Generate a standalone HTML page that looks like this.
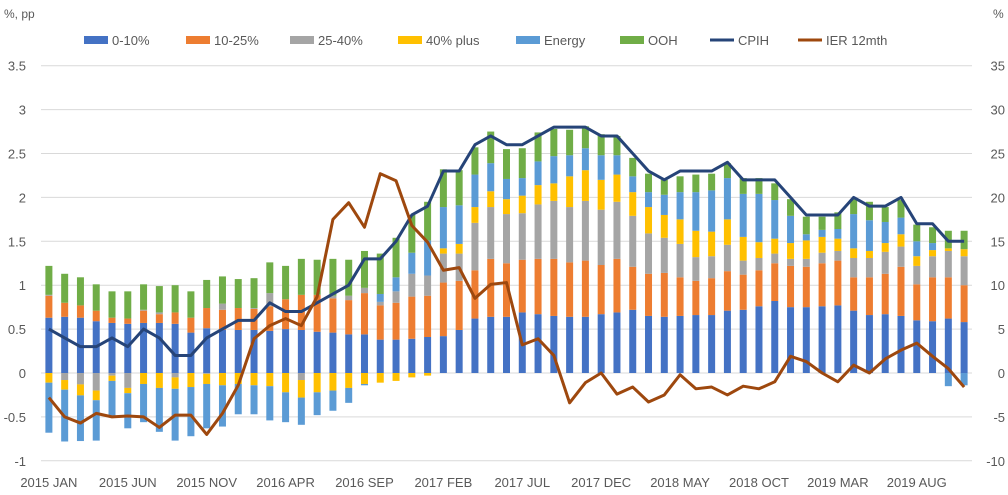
<!DOCTYPE html>
<html><head><meta charset="utf-8"><style>
body{margin:0;background:#fff;}
svg{display:block;font-family:"Liberation Sans",sans-serif;}
</style></head><body>
<svg id="chart" width="1008" height="495" viewBox="0 0 1008 495" xmlns="http://www.w3.org/2000/svg"></svg>
<script>
const months = ["2015 JAN","","","","","2015 JUN","","","","","2015 NOV","","","","","2016 APR","","","","","2016 SEP","","","","","2017 FEB","","","","","2017 JUL","","","","","2017 DEC","","","","","2018 MAY","","","","","2018 OCT","","","","","2019 MAR","","","","","2019 AUG","","",""];
const seriesNames = ["0-10%","10-25%","25-40%","40% plus","Energy","OOH"];
const s0to10 = [0.63,0.64,0.63,0.59,0.57,0.56,0.57,0.57,0.56,0.46,0.51,0.49,0.49,0.49,0.48,0.50,0.49,0.47,0.46,0.44,0.44,0.38,0.38,0.39,0.41,0.42,0.49,0.62,0.64,0.64,0.69,0.67,0.65,0.64,0.64,0.67,0.69,0.72,0.65,0.64,0.65,0.66,0.66,0.71,0.72,0.76,0.82,0.75,0.75,0.76,0.77,0.71,0.66,0.67,0.65,0.60,0.59,0.62,0.58];
const s10to25 = [0.25,0.16,0.14,0.12,0.06,0.06,0.14,0.10,0.13,0.17,0.23,0.23,0.25,0.24,0.28,0.34,0.40,0.42,0.39,0.39,0.47,0.39,0.42,0.48,0.47,0.61,0.56,0.55,0.66,0.61,0.60,0.63,0.65,0.62,0.64,0.56,0.61,0.49,0.48,0.50,0.44,0.39,0.42,0.45,0.40,0.41,0.43,0.47,0.46,0.49,0.51,0.38,0.43,0.46,0.56,0.41,0.50,0.47,0.42];
const s25to40 = [0.01,-0.08,-0.13,-0.2,-0.03,-0.17,0.01,0.02,-0.05,0,-0.01,0.07,0,0.01,0.15,0,-0.08,0,0.03,0.05,0.06,0.04,0.13,0.26,0.23,0.33,0.31,0.54,0.59,0.56,0.53,0.62,0.66,0.63,0.68,0.63,0.65,0.58,0.46,0.40,0.38,0.27,0.25,0.30,0.16,0.14,0.11,0.08,0.09,0.12,0.11,0.22,0.22,0.25,0.23,0.21,0.24,0.30,0.33];
const s40plus = [-0.11,-0.11,-0.125,-0.11,-0.06,-0.06,-0.125,-0.17,-0.13,-0.16,-0.115,-0.14,-0.125,-0.14,-0.15,-0.22,-0.20,-0.22,-0.20,-0.17,-0.125,-0.11,-0.09,-0.05,-0.03,0.06,0.11,0.18,0.18,0.17,0.20,0.22,0.20,0.35,0.35,0.34,0.31,0.27,0.30,0.26,0.28,0.30,0.28,0.29,0.27,0.18,0.17,0.18,0.21,0.18,0.14,0.11,0.08,0.10,0.14,0.11,0.07,0.03,0.08];
const sEnergy = [-0.57,-0.59,-0.52,-0.46,-0.41,-0.40,-0.435,-0.50,-0.59,-0.56,-0.505,-0.47,-0.345,-0.33,-0.39,-0.34,-0.31,-0.26,-0.23,-0.17,-0.015,0.09,0.16,0.24,0.40,0.47,0.44,0.37,0.32,0.23,0.20,0.27,0.31,0.24,0.25,0.28,0.22,0.18,0.17,0.23,0.31,0.44,0.47,0.47,0.49,0.55,0.44,0.31,0.07,0.08,0.11,0.39,0.35,0.24,0.19,0.17,0.08,-0.15,-0.14];
const sOOH = [0.33,0.33,0.32,0.30,0.30,0.31,0.29,0.30,0.31,0.30,0.32,0.31,0.33,0.34,0.35,0.38,0.41,0.40,0.42,0.41,0.42,0.46,0.45,0.43,0.44,0.43,0.40,0.31,0.36,0.34,0.34,0.33,0.31,0.29,0.25,0.24,0.22,0.21,0.21,0.17,0.18,0.20,0.19,0.17,0.18,0.18,0.19,0.19,0.20,0.15,0.19,0.17,0.21,0.17,0.20,0.19,0.18,0.20,0.21];
const cpih = [0.5,0.4,0.3,0.3,0.4,0.3,0.5,0.4,0.2,0.2,0.4,0.5,0.6,0.6,0.8,0.7,0.7,0.8,0.9,1.0,1.3,1.3,1.5,1.8,1.9,2.3,2.3,2.6,2.7,2.6,2.6,2.7,2.8,2.8,2.8,2.7,2.7,2.5,2.3,2.2,2.3,2.3,2.3,2.4,2.2,2.2,2.2,2.0,1.8,1.8,1.8,2.0,1.9,1.9,2.0,1.7,1.7,1.5,1.5];
const ier = [-2.8,-5.0,-5.7,-4.6,-5.0,-4.9,-5.0,-6.2,-4.8,-4.8,-7.0,-4.6,-1.4,3.9,5.4,6.2,5.4,8.7,17.5,19.4,16.6,22.7,21.9,16.8,14.9,11.7,12.0,8.5,10.1,10.3,3.2,3.9,2.0,-3.4,-1.1,0,-2.4,-1.6,-3.3,-2.5,-0.2,-1.8,-1.6,-2.5,-1.5,-1.8,-1.0,1.9,1.3,0,-1.0,0.9,0,1.6,2.6,3.4,1.9,0.5,-1.6];
const leftTicks = ["-1","-0.5","0","0.5","1","1.5","2","2.5","3","3.5"];
const rightTicks = ["-10","-5","0","5","10","15","20","25","30","35"];

const NS="http://www.w3.org/2000/svg";
const svg=document.getElementById('chart');
const colors=["#4472C4","#ED7D31","#A5A5A5","#FFC000","#5B9BD5","#70AD47"];
const L=41,R=972,Y0=373,PX=87.8;
const n=s0to10.length, step=(R-L)/n;
function x(i){return L+step*(i+0.5);}
function yL(v){return Y0-v*PX;}
function yR(v){return Y0-v/10*PX;}
function mk(t,a,txt){const e=document.createElementNS(NS,t);for(const k in a)e.setAttribute(k,a[k]);if(txt!==undefined)e.textContent=txt;svg.appendChild(e);return e;}

leftTicks.forEach((t,i)=>{const v=parseFloat(t);
 const g=mk('line',{x1:L,x2:R,y1:yL(v),y2:yL(v),stroke:'#d9d9d9','stroke-width':1});
 
 
 const tl=mk('text',{x:26,y:yL(v)+5,'text-anchor':'end','font-size':13,fill:'#595959'},t);
 
 
});
rightTicks.forEach((t,i)=>{const v=parseFloat(t);
 const tr=mk('text',{x:1005,y:yR(v)+5,'text-anchor':'end','font-size':13,fill:'#595959'},t);
 
 
});
const t1=mk('text',{x:4,y:18,'font-size':12,fill:'#595959'},'%, pp');


const t2=mk('text',{x:993,y:18,'font-size':12,fill:'#595959'},'%');



const series=[s0to10,s10to25,s25to40,s40plus,sEnergy,sOOH];
const bw=7;
for(let i=0;i<n;i++){let pos=0,neg=0;
 series.forEach((s,k)=>{const v=s[i];if(!v)return;let a,b;
  if(v>0){a=pos;b=pos+v;pos=b;}else{a=neg;b=neg+v;neg=b;}
  const r=mk('rect',{x:x(i)-bw/2,y:Math.min(yL(a),yL(b)),width:bw,height:Math.abs(yL(a)-yL(b)),fill:colors[k]});
  
  
 });
 if(months[i]){const xt=mk('text',{x:x(i),y:487,'text-anchor':'middle','font-size':13,fill:'#595959'},months[i]);
  
  }
}
function line(vals,fy,col,name){
 const p=mk('polyline',{points:vals.map((v,i)=>x(i)+','+fy(v)).join(' '),fill:'none',stroke:col,'stroke-width':3,'stroke-linejoin':'round'});
 
 
}
line(cpih,yL,'#264478','cpih-line');
line(ier,yR,'#9E480E','ier-12mth-line');

const leg=[["0-10%",84,0],["10-25%",186,1],["25-40%",290,2],["40% plus",398,3],["Energy",516,4],["OOH",620,5]];
leg.forEach(([t,lx,k])=>{
 const r=mk('rect',{x:lx,y:36,width:24,height:8,fill:colors[k]});
 
 
 const tx=mk('text',{x:lx+28,y:45,'font-size':13,fill:'#595959'},t);
 
 
});
[["CPIH",710,'#264478'],["IER 12mth",798,'#9E480E']].forEach(([t,lx,c])=>{
 const l=mk('line',{x1:lx,x2:lx+24,y1:40,y2:40,stroke:c,'stroke-width':3});
 
 
 const tx=mk('text',{x:lx+28,y:45,'font-size':13,fill:'#595959'},t);
 
 
});
</script>
</body></html>
